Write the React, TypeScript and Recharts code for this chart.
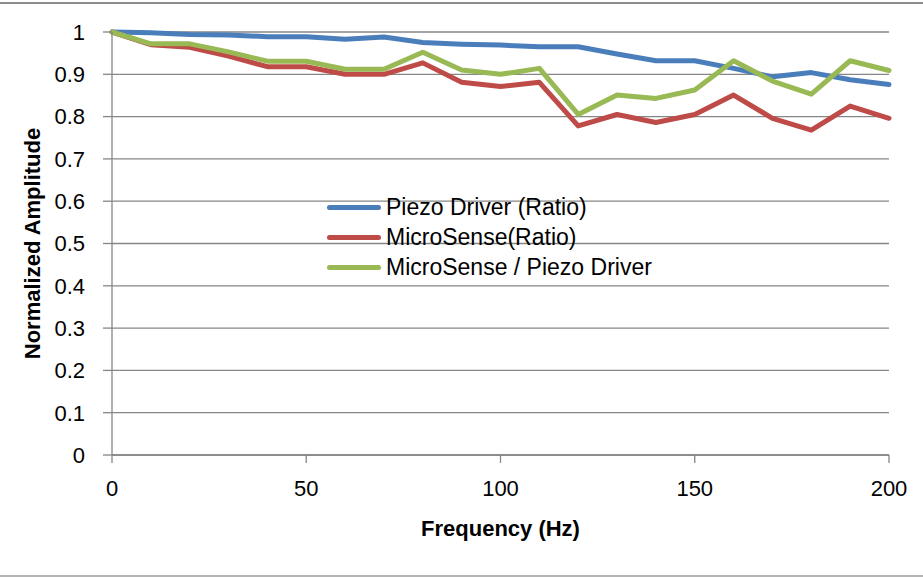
import { LineChart, Line, XAxis, YAxis, CartesianGrid, Legend, Label } from "recharts"

const frequencies = [0, 10, 20, 30, 40, 50, 60, 70, 80, 90, 100, 110, 120, 130, 140, 150, 160, 170, 180, 190, 200]
const piezoDriver = [1, 0.998, 0.994, 0.993, 0.989, 0.989, 0.983, 0.988, 0.975, 0.971, 0.969, 0.965, 0.965, 0.948, 0.932, 0.932, 0.914, 0.894, 0.904, 0.887, 0.876]
const microSense = [1, 0.97, 0.964, 0.943, 0.918, 0.918, 0.9, 0.9, 0.927, 0.881, 0.871, 0.881, 0.778, 0.805, 0.786, 0.805, 0.851, 0.796, 0.768, 0.825, 0.796]
const senseOverDriver = [1, 0.972, 0.972, 0.953, 0.931, 0.931, 0.912, 0.912, 0.952, 0.91, 0.9, 0.914, 0.805, 0.851, 0.843, 0.863, 0.932, 0.884, 0.853, 0.932, 0.909]

const xTicks = [0, 50, 100, 150, 200]
const yTicks = [0, 0.1, 0.2, 0.3, 0.4, 0.5, 0.6, 0.7, 0.8, 0.9, 1]

const seriesNames = ["Piezo Driver (Ratio)", "MicroSense(Ratio)", "MicroSense / Piezo Driver"]
const seriesColors = ["#4A7EBB", "#BE4B48", "#98B954"]

const data = frequencies.map((f, i) => ({
  freq: f,
  piezo: piezoDriver[i],
  micro: microSense[i],
  ratio: senseOverDriver[i],
}))

const FONT = '"Liberation Sans", Arial, sans-serif'
const AXIS_GRAY = "#868686"

function LegendBox() {
  return (
    <div style={{ fontFamily: FONT, fontSize: 23, color: "#000" }}>
      {seriesNames.map((name, i) => (
        <div key={name} style={{ display: "flex", alignItems: "center", height: 30, whiteSpace: "nowrap" }}>
          <span
            style={{
              display: "inline-block",
              width: 54,
              height: 5,
              borderRadius: 3,
              background: seriesColors[i],
              marginRight: 5,
            }}
          />
          <span>{name}</span>
        </div>
      ))}
    </div>
  )
}

export default function App() {
  const tickStyle = { fill: "#000", fontSize: 22, fontFamily: FONT }
  return (
    <div
      style={{
        position: "absolute",
        left: 0,
        top: 0,
        width: 923,
        height: 577,
        background: "#fff",
        fontFamily: FONT,
      }}
    >
      {/* frame lines of the original chart image */}
      <div style={{ position: "absolute", left: 0, top: 2, width: 923, height: 2, background: "#8c8c8c" }} />
      <div style={{ position: "absolute", left: 0, top: 575, width: 923, height: 2, background: "#b4b4b4" }} />
      <LineChart width={923} height={577} data={data} margin={{ top: 32, right: 34, bottom: 82, left: 12 }}>
        <CartesianGrid vertical={false} stroke={AXIS_GRAY} strokeWidth={1.3} />
        <XAxis
          dataKey="freq"
          type="number"
          domain={[0, 200]}
          ticks={xTicks}
          height={40}
          tickSize={8}
          tickMargin={17}
          tick={tickStyle}
          stroke={AXIS_GRAY}
          strokeWidth={1.3}
        >
          <Label
            value="Frequency (Hz)"
            position="bottom"
            offset={25}
            style={{ fontFamily: FONT, fontSize: 22, fontWeight: "bold", fill: "#000" }}
          />
        </XAxis>
        <YAxis
          type="number"
          domain={[0, 1]}
          ticks={yTicks}
          width={100}
          tickSize={9}
          tickMargin={18}
          tick={tickStyle}
          tickFormatter={(v: number) => String(+v.toFixed(1))}
          stroke={AXIS_GRAY}
          strokeWidth={1.3}
        >
          <Label
            value="Normalized Amplitude"
            angle={-90}
            position="insideLeft"
            offset={20}
            textAnchor="middle"
            style={{ fontFamily: FONT, fontSize: 22, fontWeight: "bold", fill: "#000", textAnchor: "middle" }}
          />
        </YAxis>
        <Legend
          layout="vertical"
          align="center"
          verticalAlign="middle"
          content={() => <LegendBox />}
          wrapperStyle={{ left: 327, top: 192, width: "auto", height: "auto" }}
        />
        <Line dataKey="piezo" name={seriesNames[0]} stroke={seriesColors[0]} strokeWidth={5} dot={false} strokeLinecap="round" strokeLinejoin="round" isAnimationActive={false} />
        <Line dataKey="micro" name={seriesNames[1]} stroke={seriesColors[1]} strokeWidth={5} dot={false} strokeLinecap="round" strokeLinejoin="round" isAnimationActive={false} />
        <Line dataKey="ratio" name={seriesNames[2]} stroke={seriesColors[2]} strokeWidth={5} dot={false} strokeLinecap="round" strokeLinejoin="round" isAnimationActive={false} />
      </LineChart>
    </div>
  )
}
